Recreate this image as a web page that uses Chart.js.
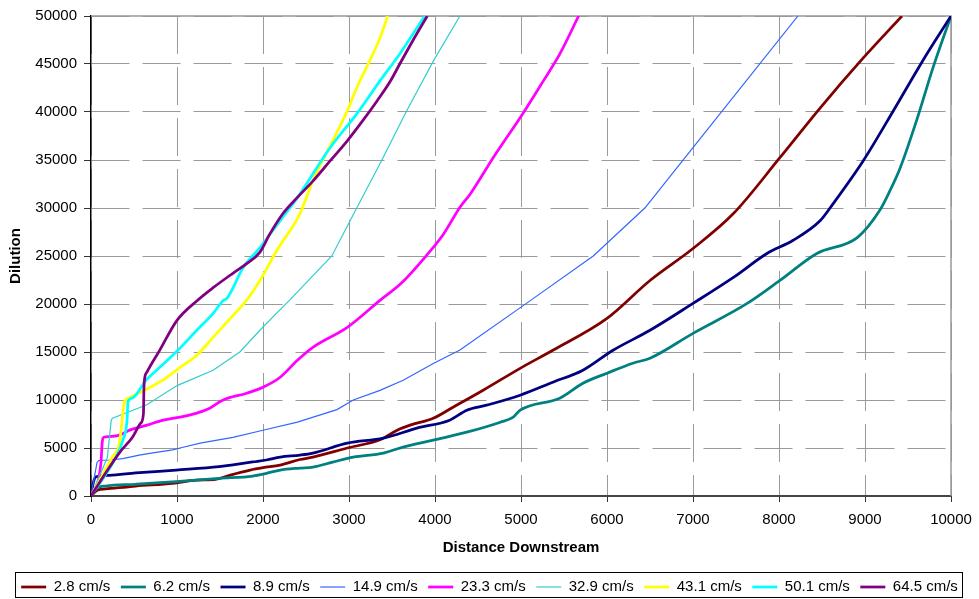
<!DOCTYPE html>
<html>
<head>
<meta charset="utf-8">
<title>Dilution vs Distance Downstream</title>
<script src="https://cdn.jsdelivr.net/npm/chart.js@4.4.0/dist/chart.umd.min.js"></script>
<style>
    html, body { margin: 0; padding: 0; background: #fff; }
    canvas { display: block; }
</style>
</head>
<body>
<canvas id="dilutionChart" width="979" height="599"></canvas>
<script>
// Series names (current speed)
const speeds = ['2.8 cm/s', '6.2 cm/s', '8.9 cm/s', '14.9 cm/s', '23.3 cm/s', '32.9 cm/s', '43.1 cm/s', '50.1 cm/s', '64.5 cm/s'];

// Distance downstream / dilution pairs for each speed
const dist28 = [0, 80, 170, 520, 950, 1230, 1450, 1620, 1850, 2000, 2200, 2430, 2580, 2980, 3360, 3560, 3710, 3980, 4210, 4560, 4990, 5370, 6000, 6500, 7000, 7470, 8010, 8480, 8980, 9430];
const dil28  = [0, 620, 730, 1040, 1320, 1660, 1740, 2180, 2700, 2950, 3220, 3800, 4050, 5000, 5850, 6860, 7380, 8100, 9250, 11020, 13300, 15180, 18500, 22450, 25780, 29420, 35240, 40440, 45630, 50000];

const dist62 = [0, 60, 170, 520, 990, 1490, 1880, 2040, 2200, 2430, 2580, 2810, 3050, 3400, 3590, 3980, 4370, 4760, 4910, 4990, 5450, 5720, 6000, 6300, 6500, 7000, 7630, 8010, 8440, 8910, 9170, 9290, 9410, 9610, 9790, 10000];
const dil62  = [0, 800, 1040, 1220, 1490, 1840, 2080, 2360, 2700, 2910, 3015, 3530, 4050, 4470, 4990, 5820, 6650, 7690, 8210, 8940, 10190, 11750, 12790, 13830, 14350, 16940, 20060, 22450, 25260, 26920, 29730, 31800, 34200, 39400, 44590, 50000];

const dist89 = [0, 30, 60, 210, 520, 990, 1490, 1650, 1880, 2040, 2200, 2430, 2580, 2980, 3400, 3790, 4170, 4370, 4600, 4990, 5370, 5720, 6070, 6500, 7000, 7470, 7860, 8160, 8480, 8630, 8980, 9330, 9670, 10000];
const dil89  = [0, 1500, 2000, 2150, 2400, 2700, 3050, 3250, 3550, 3750, 4050, 4260, 4470, 5500, 6030, 7070, 7900, 8940, 9460, 10500, 11850, 13100, 15180, 17260, 20060, 22770, 25260, 26610, 28690, 30460, 34930, 40130, 45320, 50000];

const dist149 = [0, 70, 90, 210, 370, 560, 720, 950, 1035, 1270, 1650, 2000, 2400, 2860, 3050, 3360, 3630, 3980, 4290, 5100, 5840, 6440, 7000, 8220];
const dil149  = [0, 3500, 3700, 3750, 3900, 4250, 4500, 4800, 5000, 5500, 6100, 6850, 7700, 9000, 10000, 11000, 12050, 13800, 15200, 20300, 25000, 30000, 36300, 50000];

const dist233 = [0, 115, 130, 140, 170, 330, 450, 650, 840, 1035, 1230, 1380, 1530, 1810, 2000, 2200, 2400, 2580, 2980, 3360, 3600, 3900, 4100, 4290, 4410, 4680, 5030, 5260, 5450, 5670];
const dil233  = [0, 3400, 5500, 6050, 6150, 6340, 6860, 7380, 7900, 8210, 8630, 9150, 9980, 10710, 11330, 12370, 14140, 15490, 17570, 20380, 22100, 25050, 27300, 30080, 31460, 35280, 39950, 43240, 46020, 50000];

const dist329 = [0, 190, 235, 250, 650, 1000, 1420, 1730, 2000, 2310, 2800, 3090, 3360, 3670, 3980, 4290];
const dil329  = [0, 4000, 7900, 8100, 9500, 11500, 13100, 15000, 17600, 20400, 25000, 30000, 34600, 40100, 45300, 50000];

const dist431 = [0, 250, 330, 370, 385, 440, 620, 840, 1035, 1230, 1420, 1620, 1810, 1965, 2160, 2430, 2580, 2810, 2980, 3090, 3240, 3360, 3450];
const dil431  = [0, 4100, 5500, 8600, 9700, 10200, 11000, 12100, 13400, 14660, 16530, 18500, 20400, 22450, 25570, 29420, 32850, 37000, 40130, 42520, 45320, 47710, 50000];

const dist501 = [0, 290, 370, 420, 430, 480, 640, 800, 1010, 1230, 1420, 1540, 1580, 1770, 1965, 2200, 2400, 2780, 3090, 3360, 3590, 3880];
const dil501  = [0, 4050, 5800, 8000, 9800, 10200, 12050, 13400, 15180, 17260, 19020, 20380, 20580, 23800, 25880, 28690, 31080, 36280, 39810, 43240, 46050, 50000];

const dist645 = [0, 170, 330, 480, 580, 610, 615, 620, 650, 800, 1000, 1240, 1420, 1650, 1810, 1965, 2080, 2230, 2400, 2580, 2780, 2980, 3160, 3330, 3480, 3590, 3740, 3910];
const dil645  = [0, 2400, 4500, 6100, 7600, 8600, 11000, 12000, 12900, 15200, 18300, 20400, 21700, 23200, 24200, 25400, 27300, 29400, 31100, 32800, 34900, 37000, 39100, 41200, 43200, 45000, 47400, 50000];

const distances = [dist28, dist62, dist89, dist149, dist233, dist329, dist431, dist501, dist645];
const dilutions = [dil28, dil62, dil89, dil149, dil233, dil329, dil431, dil501, dil645];

// Line styling
const lineColors = ['#800000', '#008080', '#000080', '#3366FF', '#FF00FF', '#33CCCC', '#FFFF00', '#00FFFF', '#800080'];
const lineWidths = [2.75, 2.75, 2.75, 1.2, 2.75, 1.2, 2.75, 2.75, 2.75];

const FONT = "'Liberation Sans', Arial, sans-serif";

const datasets = speeds.map((name, i) => {
    const thin = lineWidths[i] < 2;
    return {
        label: name,
        data: distances[i].map((d, k) => ({ x: d, y: dilutions[i][k] })),
        borderColor: lineColors[i],
        backgroundColor: lineColors[i],
        borderWidth: lineWidths[i],
        pointRadius: 0,
        // thin series are straight segments, thick ones are smoothed
        cubicInterpolationMode: thin ? 'default' : 'monotone',
        tension: 0,
        fill: false,
        showLine: true,
        // later series sit on top
        order: speeds.length - i
    };
});

// Solid top/right frame of the plot area
const plotFrame = {
    id: 'plotFrame',
    beforeDatasetsDraw(chart) {
        const { ctx, chartArea: a } = chart;
        ctx.save();
        ctx.strokeStyle = '#999999';
        ctx.lineWidth = 1.5;
        ctx.beginPath();
        ctx.moveTo(a.left, a.top);
        ctx.lineTo(a.right, a.top);
        ctx.lineTo(a.right, a.bottom);
        ctx.stroke();
        ctx.restore();
    }
};

// Box around the legend row
const legendBox = {
    id: 'legendBox',
    afterDraw(chart) {
        const lg = chart.legend;
        if (!lg || !lg.legendHitBoxes.length) return;
        let x0 = Infinity, x1 = -Infinity;
        lg.legendHitBoxes.forEach(b => {
            x0 = Math.min(x0, b.left);
            x1 = Math.max(x1, b.left + b.width);
        });
        const ctx = chart.ctx;
        ctx.save();
        ctx.strokeStyle = '#000';
        ctx.lineWidth = 1;
        const left = Math.round(x0 - 6) + 0.5;
        const right = Math.round(x1 + 4) + 0.5;
        const top = Math.round(lg.top + 3) + 0.5;
        const bottom = Math.round(lg.bottom - 2) + 0.5;
        ctx.strokeRect(left, top, right - left, bottom - top);
        ctx.restore();
    }
};

const plainNumber = value => String(value);

new Chart(document.getElementById('dilutionChart'), {
    type: 'scatter',
    data: { datasets: datasets },
    options: {
        responsive: false,
        animation: false,
        devicePixelRatio: 1,
        events: [],
        layout: {
            padding: { left: 0, top: 15, right: 0, bottom: 0 }
        },
        plugins: {
            tooltip: { enabled: false },
            legend: {
                position: 'bottom',
                maxHeight: 30,
                labels: {
                    usePointStyle: true,
                    pointStyle: 'line',
                    pointStyleWidth: 25,
                    padding: 10.5,
                    color: '#000',
                    font: { family: FONT, size: 15 },
                    sort: (a, b) => a.datasetIndex - b.datasetIndex
                }
            }
        },
        scales: {
            x: {
                type: 'linear',
                min: 0,
                max: 10000,
                afterFit(scale) {
                    scale.height = 73;
                    // room on the right of the plot for the last tick label
                    scale.paddingRight = 28;
                },
                ticks: {
                    stepSize: 1000,
                    color: '#000',
                    padding: 9,
                    maxRotation: 0,
                    callback: plainNumber,
                    font: { family: FONT, size: 15 }
                },
                grid: {
                    color: '#9a9a9a',
                    lineWidth: 1,
                    tickLength: 6,
                    tickColor: '#333',
                    tickWidth: 1,
                    tickBorderDash: []
                },
                border: { display: true, color: '#444', width: 2, dash: [38, 13] },
                title: {
                    display: true,
                    text: 'Distance Downstream',
                    color: '#000',
                    padding: { top: 0, bottom: 12 },
                    font: { family: FONT, size: 15, weight: 'bold' }
                }
            },
            y: {
                type: 'linear',
                min: 0,
                max: 50000,
                afterFit(scale) { scale.width = 91; },
                ticks: {
                    stepSize: 5000,
                    color: '#000',
                    padding: 7,
                    callback: plainNumber,
                    font: { family: FONT, size: 15 }
                },
                grid: {
                    color: '#9a9a9a',
                    lineWidth: 1,
                    tickLength: 7,
                    tickColor: '#333',
                    tickWidth: 1,
                    tickBorderDash: []
                },
                border: { display: true, color: '#000', width: 1.5, dash: [38, 13] },
                title: {
                    display: true,
                    text: 'Dilution',
                    color: '#000',
                    padding: { top: 7, bottom: 0 },
                    font: { family: FONT, size: 15, weight: 'bold' }
                }
            }
        }
    },
    plugins: [plotFrame, legendBox]
});
</script>
</body>
</html>
